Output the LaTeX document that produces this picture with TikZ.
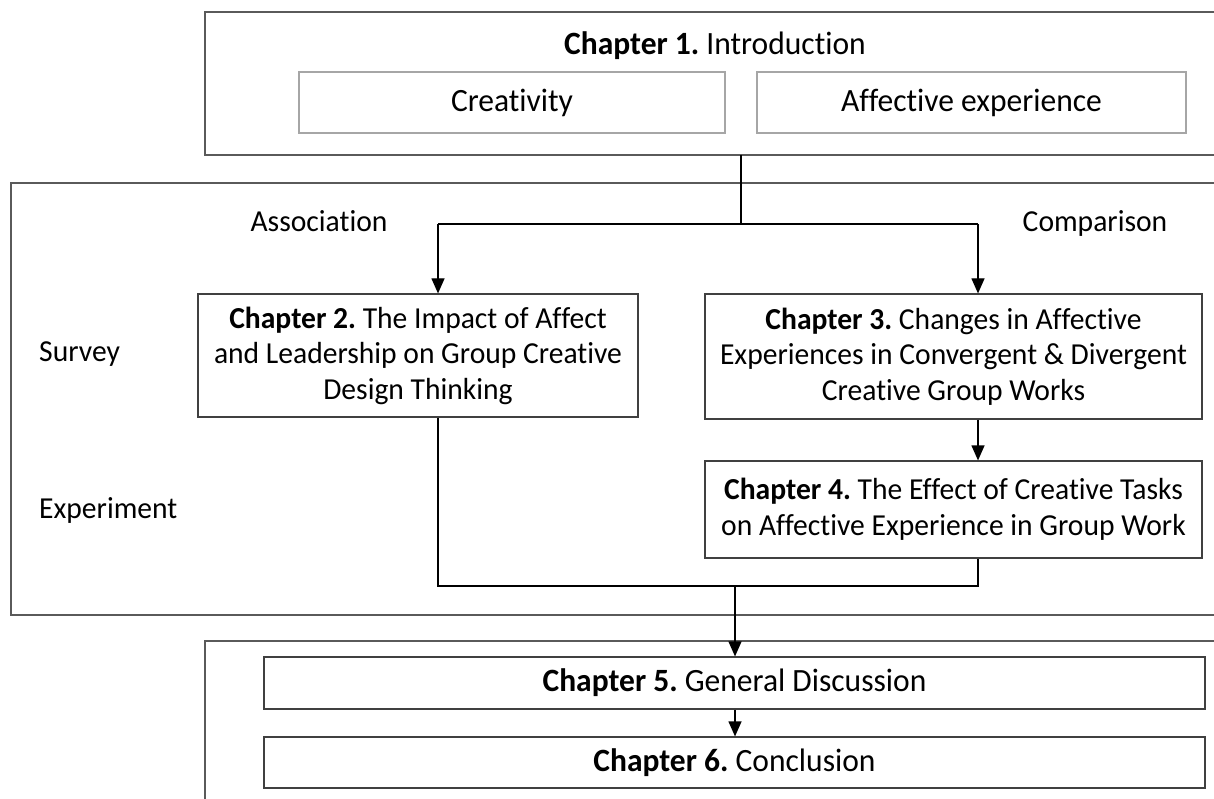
\documentclass[tikz,border=0pt]{standalone}
\usepackage{fontspec}
\setmainfont{Carlito}[FakeStretch=0.97, RawFeature={-liga;-calt;-dlig;-clig}]
\usetikzlibrary{arrows.meta}
\frenchspacing
\definecolor{framegray}{HTML}{5A5A5A}
\definecolor{subgray}{HTML}{A6A6A6}
\definecolor{boxgray}{HTML}{404040}
\tikzset{
  txt/.style={font=\fontsize{30.5}{35.5}\selectfont, inner sep=0pt, anchor=base},
  bigtxt/.style={font=\fontsize{32.5}{38}\selectfont},
  frame/.style={draw=framegray, line width=1.2pt},
  chapbox/.style={draw=boxgray, line width=1.2pt, align=center, inner sep=0pt,
    font=\fontsize{30.5}{35.5}\selectfont},
  subbox/.style={draw=subgray, line width=1.2pt, inner sep=0pt, bigtxt},
  conn/.style={draw=black, line width=1.2pt},
  arr/.style={conn, -{Triangle[length=15pt,width=13pt]}},
}
\begin{document}
\begin{tikzpicture}[x=1pt,y=-1pt]
\useasboundingbox (0,0) rectangle (1214,799);
\clip (0,0) rectangle (1214,799);
% frames
\draw[frame] (205,12) rectangle (1240,155);
\draw[frame] (11,183) rectangle (1240,615);
\draw[frame] (205,641) rectangle (1240,820);
% chapter 1
\node[txt, bigtxt] (ch1) at (715,55) {\textbf{Chapter 1.} Introduction};
\node[subbox, minimum width=426pt, minimum height=61pt] (crea) at (512,102.5) {Creativity};
\node[subbox, minimum width=429pt, minimum height=61pt] (aff) at (971.5,102.5) {Affective experience};
% labels
\node[txt] (assoc) at (319,232) {Association};
\node[txt] (comp) at (1095,232) {Comparison};
\node[txt, anchor=base west] (survey) at (39,361) {Survey};
\node[txt, anchor=base west] (exper) at (39,518) {Experiment};
% chapter boxes
\node[chapbox, minimum width=440pt, minimum height=123pt] (ch2) at (418,355.5)
  {\textbf{Chapter 2.} The Impact of Affect\\and Leadership on Group Creative\\Design Thinking};
\node[chapbox, minimum width=497pt, minimum height=125pt] (ch3) at (953.5,356.5)
  {\textbf{Chapter 3.} Changes in Affective\\Experiences in Convergent \& Divergent\\Creative Group Works};
\node[chapbox, minimum width=497pt, minimum height=97pt] (ch4) at (953.5,509.5)
  {\textbf{Chapter 4.} The Effect of Creative Tasks\\on Affective Experience in Group Work};
\node[chapbox, bigtxt, minimum width=941pt, minimum height=52pt] (ch5) at (734.5,683)
  {\textbf{Chapter 5.} General Discussion};
\node[chapbox, bigtxt, minimum width=941pt, minimum height=51pt] (ch6) at (734.5,762.5)
  {\textbf{Chapter 6.} Conclusion};
% connectors
\coordinate (top) at (741,155);
\coordinate (split) at (741,224);
\coordinate (jl) at (438,224);
\coordinate (jr) at (978,224);
\coordinate (ml) at (438,586);
\coordinate (mr) at (978,586);
\coordinate (mm) at (735,586);
\draw[conn] (top) -- (split);
\draw[conn] (jl) -- (jr);
\draw[arr] (jl) -- (jl |- ch2.north);
\draw[arr] (jr) -- (jr |- ch3.north);
\draw[arr] (ch3.south -| jr) -- (jr |- ch4.north);
\draw[conn] (ml |- ch2.south) -- (ml) -- (mr) -- (mr |- ch4.south);
\draw[arr] (mm) -- (mm |- ch5.north);
\draw[arr] (ch5.south -| mm) -- (mm |- ch6.north);
\end{tikzpicture}
\end{document}
